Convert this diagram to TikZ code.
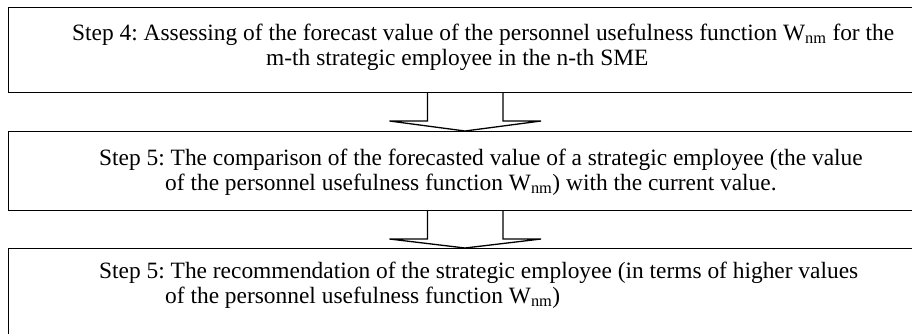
\documentclass[tikz,border=0pt]{standalone}
\usepackage{fontspec}
\setmainfont{Liberation Serif}
\usetikzlibrary{calc}
\begin{document}
\frenchspacing
\begin{tikzpicture}[x=1pt,y=-1pt,
  stepbox/.style={draw=black,line width=1.3pt,rectangle,anchor=north west,minimum width=930pt,inner sep=0pt},
  linetext/.style={anchor=base west,inner sep=0pt,font=\fontsize{23.4}{25}\selectfont},
  blockarrow/.style={draw=black,line width=1.3pt,line join=miter}]
\useasboundingbox (0,0) rectangle (912,333);
\node[stepbox,minimum height=85pt] (b1) at (8,7) {};
\node[stepbox,minimum height=79pt] (b2) at (8,131) {};
\node[stepbox,minimum height=100pt] (b3) at (8,248) {};
\node[linetext] (t11) at (72,40) {Step 4: Assessing of the forecast value of the personnel usefulness function W\textsubscript{nm} for the};
\node[linetext] (t12) at (266,65) {m-th strategic employee in the n-th SME};
\node[linetext] (t21) at (99,165) {Step 5: The comparison of the forecasted value of a strategic employee (the value};
\node[linetext] (t22) at (165,190) {of the personnel usefulness function W\textsubscript{nm}) with the current value.};
\node[linetext] (t31) at (99,278) {Step 5: The recommendation of the strategic employee (in terms of higher values};
\node[linetext] (t32) at (165,303) {of the personnel usefulness function W\textsubscript{nm})};
\coordinate (a1) at (465,92);
\coordinate (a2) at (465,210);
\draw[blockarrow] ($(a1)+(-37.5,0)$) -- ++(0,29) -- ++(-38,0) -- (b2.north -| a1) -- ($(a1)+(76,29)$) -- ++(-38,0) -- ++(0,-29);
\draw[blockarrow] ($(a2)+(-37.5,0)$) -- ++(0,29) -- ++(-38,0) -- (b3.north -| a2) -- ($(a2)+(76,29)$) -- ++(-38,0) -- ++(0,-29);
\end{tikzpicture}
\end{document}
